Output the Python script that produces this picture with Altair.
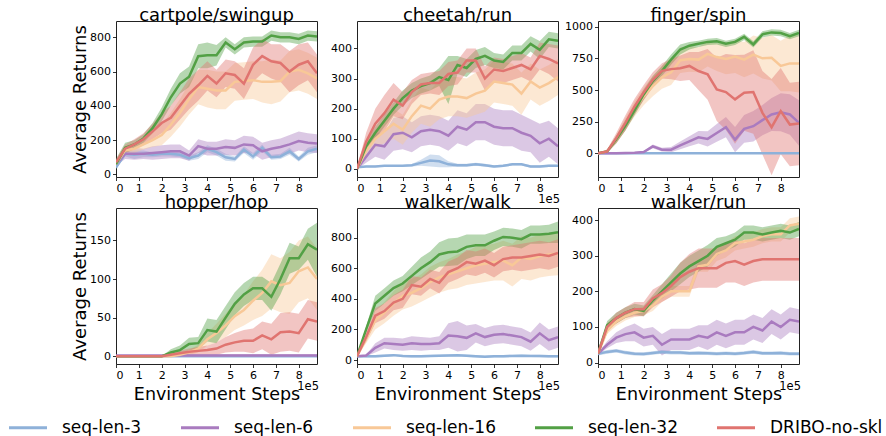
import altair as alt
import pandas as pd

# Environment steps (in units of 1e5)
steps = [0.0, 0.4, 0.8, 1.2, 1.6, 2.0, 2.4, 2.8, 3.2, 3.6, 4.0, 4.4,
         4.8, 5.2, 5.6, 6.0, 6.4, 6.8, 7.2, 7.6, 8.0, 8.4, 8.8]

series = ["seq-len-3", "seq-len-6", "seq-len-16", "seq-len-32", "DRIBO-no-skl"]
colors = ["#8EB1D9", "#A97BBF", "#F8C897", "#52A045", "#E07470"]

# ---- cartpole/swingup ----
cartpole_mean = {
    "seq-len-3": [40, 120, 115, 120, 115, 120, 120, 115, 95, 110, 150, 130, 100, 90, 145, 105, 155, 100, 105, 135, 90, 135, 150],
    "seq-len-6": [60, 120, 120, 120, 125, 130, 135, 135, 110, 165, 150, 150, 160, 155, 175, 170, 135, 150, 160, 175, 195, 185, 180],
    "seq-len-16": [60, 140, 150, 175, 200, 230, 290, 360, 440, 510, 500, 490, 490, 540, 545, 550, 540, 540, 545, 600, 610, 590, 560],
    "seq-len-32": [60, 155, 175, 210, 270, 350, 450, 530, 570, 690, 695, 695, 770, 730, 770, 775, 775, 810, 800, 800, 790, 810, 805],
    "DRIBO-no-skl": [70, 150, 175, 205, 250, 300, 330, 400, 470, 520, 575, 530, 590, 580, 530, 640, 690, 660, 650, 600, 640, 660, 590],
}
cartpole_spread = {
    "seq-len-3": [10, 15, 25, 20, 15, 15, 15, 15, 15, 20, 20, 20, 20, 15, 20, 20, 20, 15, 15, 20, 15, 20, 20],
    "seq-len-6": [10, 30, 35, 30, 40, 40, 40, 40, 30, 40, 40, 40, 45, 45, 50, 50, 50, 50, 50, 55, 55, 55, 55],
    "seq-len-16": [10, 20, 25, 30, 40, 60, 70, 80, 90, 100, 110, 110, 110, 110, 110, 110, 120, 130, 120, 120, 120, 120, 120],
    "seq-len-32": [30, 30, 25, 25, 30, 40, 50, 60, 60, 70, 75, 60, 30, 30, 30, 30, 30, 30, 30, 30, 30, 30, 30],
    "DRIBO-no-skl": [20, 25, 30, 35, 45, 60, 70, 80, 90, 90, 85, 80, 80, 80, 90, 100, 100, 100, 110, 120, 120, 110, 110],
}

# ---- cheetah/run ----
cheetah_mean = {
    "seq-len-3": [5, 8, 8, 10, 10, 10, 12, 20, 28, 25, 15, 12, 12, 15, 12, 8, 10, 15, 15, 8, 8, 10, 10],
    "seq-len-6": [0, 40, 80, 75, 115, 120, 105, 125, 130, 125, 110, 140, 130, 155, 155, 140, 135, 135, 120, 110, 85, 100, 75],
    "seq-len-16": [0, 60, 100, 125, 150, 130, 175, 210, 200, 230, 240, 240, 235, 250, 260, 290, 285, 280, 250, 290, 270, 285, 305],
    "seq-len-32": [0, 75, 120, 160, 200, 235, 260, 275, 285, 305, 295, 345, 335, 365, 375, 360, 355, 385, 385, 415, 395, 430, 425],
    "DRIBO-no-skl": [0, 90, 150, 185, 230, 210, 255, 280, 285, 285, 315, 320, 360, 360, 300, 330, 325, 335, 345, 330, 375, 365, 350],
}
cheetah_spread = {
    "seq-len-3": [2, 3, 3, 3, 3, 3, 4, 10, 20, 20, 10, 5, 5, 5, 5, 4, 4, 4, 4, 4, 4, 4, 4],
    "seq-len-6": [2, 20, 40, 45, 55, 55, 50, 50, 50, 50, 50, 55, 55, 60, 60, 60, 60, 60, 60, 55, 65, 60, 60],
    "seq-len-16": [2, 20, 30, 40, 50, 50, 55, 60, 60, 65, 65, 65, 65, 70, 70, 70, 70, 70, 70, 60, 60, 60, 60],
    "seq-len-32": [2, 15, 20, 20, 20, 25, 25, 25, 25, 30, 80, 30, 30, 30, 30, 25, 25, 25, 25, 25, 30, 25, 25],
    "DRIBO-no-skl": [2, 30, 50, 60, 55, 45, 40, 35, 35, 40, 40, 40, 40, 40, 40, 40, 40, 40, 40, 40, 45, 50, 60],
}

# ---- finger/spin ----
finger_mean = {
    "seq-len-3": [0, 0, 0, 0, 0, 0, 0, 0, 0, 0, 0, 0, 0, 0, 0, 0, 0, 0, 0, 0, 0, 0, 0],
    "seq-len-6": [0, 0, 0, 2, 5, 10, 55, 29, 29, 63, 95, 127, 114, 161, 206, 108, 193, 214, 262, 307, 325, 307, 240],
    "seq-len-16": [0, 15, 110, 230, 350, 450, 530, 600, 640, 735, 745, 740, 785, 760, 745, 765, 740, 780, 750, 755, 690, 710, 710],
    "seq-len-32": [0, 15, 110, 220, 340, 465, 570, 650, 740, 820, 850, 865, 880, 885, 865, 880, 920, 860, 940, 955, 950, 925, 950],
    "DRIBO-no-skl": [0, 15, 120, 240, 370, 480, 580, 651, 665, 672, 690, 650, 624, 505, 484, 426, 479, 484, 320, 206, 333, 227, 235],
}
finger_spread = {
    "seq-len-3": [5, 5, 5, 5, 5, 5, 5, 5, 5, 5, 5, 5, 5, 5, 5, 5, 5, 5, 5, 5, 5, 5, 5],
    "seq-len-6": [2, 2, 2, 3, 5, 8, 15, 15, 20, 30, 40, 50, 60, 70, 80, 100, 110, 120, 120, 130, 150, 160, 180],
    "seq-len-16": [3, 10, 30, 50, 60, 70, 80, 90, 100, 100, 100, 100, 100, 110, 120, 130, 140, 150, 160, 180, 200, 220, 230],
    "seq-len-32": [3, 10, 30, 40, 40, 40, 40, 40, 40, 40, 30, 25, 25, 25, 25, 25, 25, 25, 25, 25, 25, 25, 25],
    "DRIBO-no-skl": [5, 15, 40, 60, 60, 60, 60, 60, 80, 100, 110, 150, 200, 250, 300, 350, 300, 330, 330, 380, 340, 330, 330],
}

# ---- hopper/hop ----
hopper_mean = {
    "seq-len-3": [0, 0, 0, 0, 0, 0, 0, 0, 0, 0, 0, 0, 0, 0, 0, 0, 0, 0, 0, 0, 0, 0, 0],
    "seq-len-6": [1, 1, 1, 1, 1, 1, 1, 1, 1, 1, 1, 1, 1, 1, 1, 1, 1, 1, 1, 1, 1, 1, 1],
    "seq-len-16": [0, 0, 0, 0, 0, 0, 0, 2, 5, 10, 22, 30, 40, 52, 60, 72, 82, 97, 92, 95, 110, 115, 100],
    "seq-len-32": [0, 0, 0, 0, 0, 0, 5, 8, 16, 17, 34, 32, 50, 68, 80, 88, 88, 77, 100, 127, 127, 145, 138],
    "DRIBO-no-skl": [0, 0, 0, 0, 0, 0, 2, 4, 6, 7, 8, 10, 15, 18, 20, 20, 27, 22, 31, 32, 30, 48, 45],
}
hopper_spread = {
    "seq-len-3": [1, 1, 1, 1, 1, 1, 1, 1, 1, 1, 1, 1, 1, 1, 1, 1, 1, 1, 1, 1, 1, 1, 1],
    "seq-len-6": [1, 1, 1, 1, 1, 1, 2, 2, 2, 2, 2, 2, 2, 2, 2, 2, 2, 2, 2, 2, 2, 2, 2],
    "seq-len-16": [0, 0, 0, 0, 0, 0, 0, 1, 3, 5, 8, 12, 15, 18, 20, 25, 30, 35, 35, 40, 40, 40, 40],
    "seq-len-32": [0, 0, 0, 0, 0, 0, 4, 6, 8, 8, 15, 15, 15, 15, 15, 15, 15, 18, 20, 20, 15, 20, 35],
    "DRIBO-no-skl": [0, 0, 0, 0, 0, 0, 2, 3, 4, 5, 6, 8, 10, 12, 14, 16, 18, 20, 25, 25, 25, 25, 25],
}

# ---- walker/walk ----
walk_mean = {
    "seq-len-3": [25, 25, 25, 28, 32, 27, 25, 25, 27, 28, 30, 32, 28, 25, 22, 25, 25, 27, 28, 27, 26, 25, 25],
    "seq-len-6": [25, 30, 80, 110, 105, 100, 110, 105, 105, 110, 160, 155, 145, 175, 150, 165, 170, 160, 150, 120, 175, 130, 150],
    "seq-len-16": [25, 140, 260, 310, 370, 420, 440, 470, 510, 540, 560, 580, 600, 620, 630, 640, 650, 620, 670, 660, 680, 690, 695],
    "seq-len-32": [25, 200, 370, 420, 470, 500, 550, 600, 640, 690, 705, 710, 740, 750, 750, 780, 805, 800, 790, 820, 820, 825, 835],
    "DRIBO-no-skl": [25, 150, 290, 320, 375, 400, 490, 480, 530, 505, 575, 600, 640, 630, 650, 620, 660, 670, 670, 680, 690, 680, 700],
}
walk_spread = {
    "seq-len-3": [8, 8, 8, 8, 8, 8, 8, 8, 8, 8, 8, 8, 8, 8, 8, 8, 8, 8, 8, 8, 8, 8, 8],
    "seq-len-6": [3, 5, 30, 35, 40, 40, 45, 45, 40, 45, 80, 100, 80, 60, 60, 60, 60, 60, 60, 60, 70, 70, 70],
    "seq-len-16": [3, 30, 60, 70, 80, 90, 90, 90, 100, 100, 100, 110, 110, 120, 120, 120, 130, 140, 140, 140, 140, 140, 140],
    "seq-len-32": [3, 20, 50, 50, 50, 50, 60, 70, 70, 80, 90, 90, 80, 70, 70, 60, 60, 60, 60, 60, 60, 60, 70],
    "DRIBO-no-skl": [3, 30, 50, 50, 50, 60, 60, 60, 60, 70, 70, 70, 80, 80, 80, 80, 80, 80, 90, 90, 90, 90, 90],
}

# ---- walker/run ----
run_mean = {
    "seq-len-3": [25, 30, 33, 28, 25, 24, 27, 30, 28, 28, 26, 27, 26, 25, 26, 25, 27, 30, 26, 26, 27, 25, 25],
    "seq-len-6": [25, 50, 70, 80, 85, 70, 75, 50, 65, 65, 65, 75, 70, 85, 75, 85, 85, 100, 90, 115, 100, 120, 115],
    "seq-len-16": [25, 90, 115, 130, 140, 145, 160, 185, 200, 200, 200, 270, 275, 305, 315, 335, 340, 345, 355, 360, 360, 385, 390],
    "seq-len-32": [25, 105, 125, 140, 150, 145, 175, 200, 225, 250, 270, 285, 300, 325, 335, 345, 365, 365, 360, 365, 370, 365, 375],
    "DRIBO-no-skl": [25, 100, 125, 140, 150, 150, 180, 195, 215, 240, 255, 265, 265, 265, 280, 285, 275, 285, 290, 290, 290, 290, 290],
}
run_spread = {
    "seq-len-3": [5, 5, 5, 5, 5, 5, 5, 5, 5, 5, 5, 5, 5, 5, 5, 5, 5, 5, 5, 5, 5, 5, 5],
    "seq-len-6": [2, 10, 15, 20, 25, 25, 25, 30, 30, 30, 30, 30, 35, 35, 35, 35, 35, 35, 35, 35, 35, 35, 35],
    "seq-len-16": [2, 10, 12, 12, 12, 12, 15, 15, 15, 15, 15, 15, 20, 20, 20, 20, 20, 20, 20, 20, 20, 20, 20],
    "seq-len-32": [2, 12, 15, 15, 15, 15, 15, 20, 25, 30, 30, 30, 30, 25, 20, 20, 20, 20, 20, 20, 20, 20, 20],
    "DRIBO-no-skl": [2, 10, 15, 15, 20, 20, 25, 25, 30, 40, 50, 55, 55, 55, 55, 60, 60, 60, 60, 60, 60, 60, 60],
}

x_ticks = [0, 1, 2, 3, 4, 5, 6, 7, 8]

# (title, means, spreads, y-domain, y-ticks, y title?, x title?, 1e5 note?)
panels = [
    ("cartpole/swingup", cartpole_mean, cartpole_spread, [-15, 895], [0, 200, 400, 600, 800], True, False, False),
    ("cheetah/run", cheetah_mean, cheetah_spread, [-27, 491], [0, 100, 200, 300, 400], False, False, True),
    ("finger/spin", finger_mean, finger_spread, [-187, 1045], [0, 250, 500, 750, 1000], False, False, False),
    ("hopper/hop", hopper_mean, hopper_spread, [-10, 192], [0, 50, 100, 150], True, True, True),
    ("walker/walk", walk_mean, walk_spread, [-26, 994], [0, 200, 400, 600, 800], False, True, True),
    ("walker/run", run_mean, run_spread, [-4, 434], [0, 100, 200, 300, 400], False, True, True),
]

FONT = "DejaVu Sans"
W, H = 201, 156

# Legend swatch: a 38px horizontal line (symbol size 100 -> path units scaled by 5).
SWATCH = "M-2.3,0L5.3,0"

color_scale = alt.Scale(domain=series, range=colors)
legend = alt.Legend(
    title=None, orient="none", legendX=-104, legendY=398, direction="horizontal",
    symbolType=SWATCH, symbolSize=100, symbolStrokeWidth=2.8,
    labelFontSize=17, labelFont=FONT, labelColor="black", labelOffset=33,
    columnPadding=33, padding=0, labelLimit=300,
)


def make_panel(title, means, spreads, ydom, yticks, ytitle, xtitle, note):
    rows = []
    for s in series:
        for x, m, d in zip(steps, means[s], spreads[s]):
            rows.append({"step": x, "series": s, "mean": m, "lo": m - d, "hi": m + d})
    df = pd.DataFrame(rows)

    x_enc = alt.X(
        "step:Q",
        scale=alt.Scale(domain=[0, 8.8], nice=False, zero=False),
        axis=alt.Axis(values=x_ticks, format="d", title="Environment Steps" if xtitle else None),
    )
    y_axis = alt.Axis(values=yticks, format="d", title="Average Returns" if ytitle else None)
    y_scale = alt.Scale(domain=ydom, nice=False, zero=False)

    base = alt.Chart(df)
    bands = []
    lines = []
    for s, c in zip(series, colors):
        sub = base.transform_filter(alt.datum.series == s)
        bands.append(
            sub.mark_area(opacity=0.42, clip=True).encode(
                x=x_enc,
                y=alt.Y("lo:Q", scale=y_scale, axis=y_axis),
                y2="hi:Q",
                color=alt.value(c),
            )
        )
        lines.append(
            sub.mark_line(strokeWidth=2.5, clip=True).encode(
                x=x_enc,
                y=alt.Y("mean:Q", scale=y_scale, axis=y_axis),
                color=alt.Color("series:N", scale=color_scale, legend=legend),
            )
        )
    layers = bands + lines
    if note:
        layers.append(
            alt.Chart(pd.DataFrame({"t": ["1e5"]})).mark_text(
                align="right", baseline="alphabetic", fontSize=11.5, font=FONT, color="black"
            ).encode(text="t:N", x=alt.value(W + 2), y=alt.value(H + 25.5))
        )
    return alt.layer(*layers).properties(
        width=W, height=H,
        title=alt.TitleParams(title, fontSize=18, font=FONT, fontWeight="normal",
                              offset=2, dy=6, color="black"),
    )


charts = [make_panel(*p) for p in panels]

chart = (
    alt.concat(*charts, columns=3, spacing=alt.RowColnumber(row=31, column=40), bounds="flush")
    .resolve_scale(x="independent", y="independent", color="shared")
    .properties(padding={"left": 12, "top": 6, "right": 0, "bottom": 1})
    .configure_view(stroke="#222222", strokeWidth=1)
    .configure_axis(
        domain=False, grid=False, ticks=True, tickColor="black", tickSize=3.5, tickWidth=0.8,
        labelFont=FONT, labelFontSize=11, labelColor="black", labelPadding=2,
        titleFont=FONT, titleFontSize=18, titleFontWeight="normal", titleColor="black",
    )
    .configure_axisY(titlePadding=0)
    .configure_axisX(titlePadding=5, titleFontSize=17.5)
)

chart.save("out.html", embed_options={"renderer": "svg", "actions": False})
